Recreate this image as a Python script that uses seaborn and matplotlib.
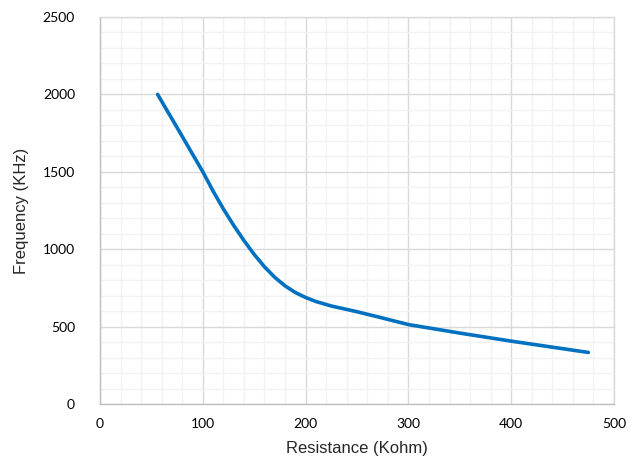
import numpy as np
import pandas as pd
import matplotlib.pyplot as plt
from matplotlib.ticker import MultipleLocator
import seaborn as sns

sns.set_theme(style="white")

resistance = [56, 75, 100, 110, 120, 130, 140, 150, 160, 170, 180, 190, 200, 210,
              225, 250, 275, 300, 350, 400, 475]
frequency = [2000, 1785, 1500, 1375, 1260, 1154, 1056, 966, 886, 818, 763, 720, 688, 662,
             633, 596, 555, 513, 458, 406, 333]

df = pd.DataFrame({"Resistance": resistance, "Frequency": frequency})

fig = plt.figure(figsize=(6.42, 4.72), dpi=100)
ax = fig.add_axes([0.1558, 0.1441, 0.8006, 0.8199])

sns.lineplot(data=df, x="Resistance", y="Frequency", ax=ax, color="#0070C0",
             linewidth=2.6, sort=False, zorder=3)
ax.lines[0].set_solid_capstyle("round")
ax.lines[0].set_solid_joinstyle("round")

ax.set_xlim(0, 500)
ax.set_ylim(0, 2500)
ax.xaxis.set_major_locator(MultipleLocator(100))
ax.xaxis.set_minor_locator(MultipleLocator(20))
ax.yaxis.set_major_locator(MultipleLocator(500))
ax.yaxis.set_minor_locator(MultipleLocator(100))

ax.grid(which="major", color="#D9D9D9", linewidth=1.0, zorder=1)
ax.grid(which="minor", color="#F2F2F2", linewidth=1.0, zorder=0)
ax.set_axisbelow(True)

for side in ["top", "right"]:
    ax.spines[side].set_color("#D9D9D9")
    ax.spines[side].set_linewidth(1.0)
for side in ["left", "bottom"]:
    ax.spines[side].set_color("#BFBFBF")
    ax.spines[side].set_linewidth(1.0)

ax.tick_params(which="both", length=0)
ax.tick_params(axis="x", pad=10)
ax.tick_params(axis="y", pad=18)
for lbl in ax.get_xticklabels() + ax.get_yticklabels():
    lbl.set_fontfamily("Lato")
    lbl.set_fontsize(10)
    lbl.set_color("#000000")

ax.set_xlabel("Resistance (Kohm)", fontfamily="Liberation Sans", fontsize=12, labelpad=8)
ax.set_ylabel("Frequency (KHz)", fontfamily="Liberation Sans", fontsize=12, labelpad=10)

fig.savefig("out.png", dpi=100)
